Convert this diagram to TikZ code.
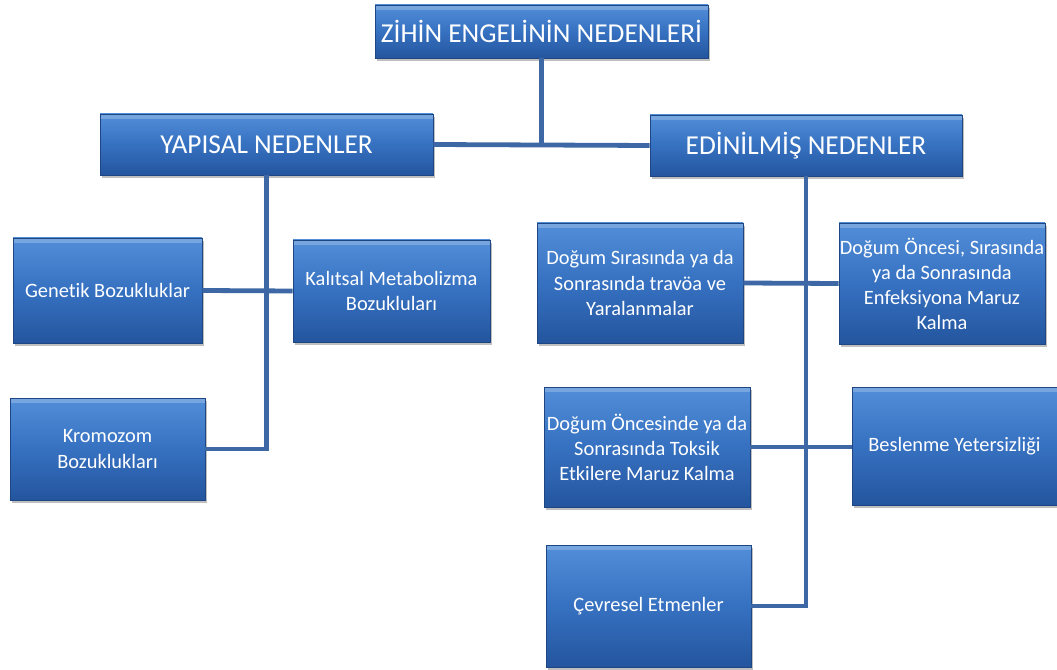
\documentclass[tikz,border=0pt]{standalone}
\usepackage{fontspec}
\setmainfont{Carlito}[Ligatures=NoCommon]
\usepackage{tikz}
\usetikzlibrary{positioning}
\usetikzlibrary{shadows}

\definecolor{boxTop}{RGB}{82,142,216}
\definecolor{boxMid}{RGB}{54,113,193}
\definecolor{boxBottom}{RGB}{36,85,158}
\definecolor{boxEdge}{RGB}{30,70,130}
\definecolor{lineBlue}{RGB}{62,104,165}

\begin{document}
\begin{tikzpicture}[x=0.75pt, y=-0.75pt,
	causeBox/.style={rectangle, top color=boxTop, bottom color=boxBottom, middle color=boxMid, draw=boxEdge, line width=0.5pt, text=white, align=center, inner sep=0pt,
		path picture={\fill[white, opacity=0.22] (path picture bounding box.north west) rectangle ([yshift=-3.5pt]path picture bounding box.north east);},
		drop shadow={shadow xshift=1.5pt, shadow yshift=-2.5pt, opacity=0.5}},
	headFont/.style={font=\fontsize{20.5}{24}\selectfont},
	itemFont/.style={font=\fontsize{15.3}{18.8}\selectfont},
	link/.style={draw=lineBlue, line width=3.6pt}]
	\useasboundingbox (0,0) rectangle (1057,670);

	\node[causeBox, headFont, minimum width=249.75pt, minimum height=39.75pt](rootBox) at (541.5,31.5){ZİHİN ENGELİNİN NEDENLERİ};

	\node[causeBox, headFont, minimum width=249.75pt, minimum height=45.75pt](yapisalBox) at (266.5,144.5){YAPISAL NEDENLER};
	\node[causeBox, headFont, minimum width=234pt, minimum height=45.75pt](edinilmisBox) at (806,145.5){EDİNİLMİŞ NEDENLER};

	\node[causeBox, itemFont, minimum width=141.75pt, minimum height=78.75pt](genetikBox) at (107.5,290.5){Genetik Bozukluklar};
	\node[causeBox, itemFont, minimum width=147.75pt, minimum height=76.5pt](kalitsalBox) at (391.5,291){Kalıtsal Metabolizma\\Bozukluları};
	\node[causeBox, itemFont, minimum width=146.25pt, minimum height=76.5pt](kromozomBox) at (107.5,449){Kromozom\\Bozuklukları};

	\node[causeBox, itemFont, minimum width=154.5pt, minimum height=90pt](siraBox) at (640,283){Doğum Sırasında ya da\\Sonrasında travöa ve\\Yaralanmalar};
	\node[causeBox, itemFont, minimum width=154.5pt, minimum height=90.75pt](onceBox) at (942,283.5){Doğum Öncesi, Sırasında\\ya da Sonrasında\\Enfeksiyona Maruz\\Kalma};
	\node[causeBox, itemFont, minimum width=154.5pt, minimum height=90pt](toksikBox) at (647,447){Doğum Öncesinde ya da\\Sonrasında Toksik\\Etkilere Maruz Kalma};
	\node[causeBox, itemFont, minimum width=153.75pt, minimum height=88.5pt](beslenmeBox) at (954.5,446){Beslenme Yetersizliği};
	\node[causeBox, itemFont, minimum width=153.75pt, minimum height=91.5pt](cevreselBox) at (648.5,606){Çevresel Etmenler};

	\coordinate(rootJoin) at (rootBox.south |- yapisalBox.east);
	\draw[link] (rootBox.south) -- (rootJoin);
	\draw[link] (yapisalBox.east) -- (edinilmisBox.west);

	\draw[link] (yapisalBox.south) |- (kromozomBox.east);
	\draw[link] (genetikBox.east) -- (kalitsalBox.west);

	\draw[link] (edinilmisBox.south) |- (cevreselBox.east);
	\draw[link] (siraBox.east) -- (onceBox.west);
	\draw[link] (toksikBox.east) -- (toksikBox.east -| beslenmeBox.west);
\end{tikzpicture}
\end{document}
